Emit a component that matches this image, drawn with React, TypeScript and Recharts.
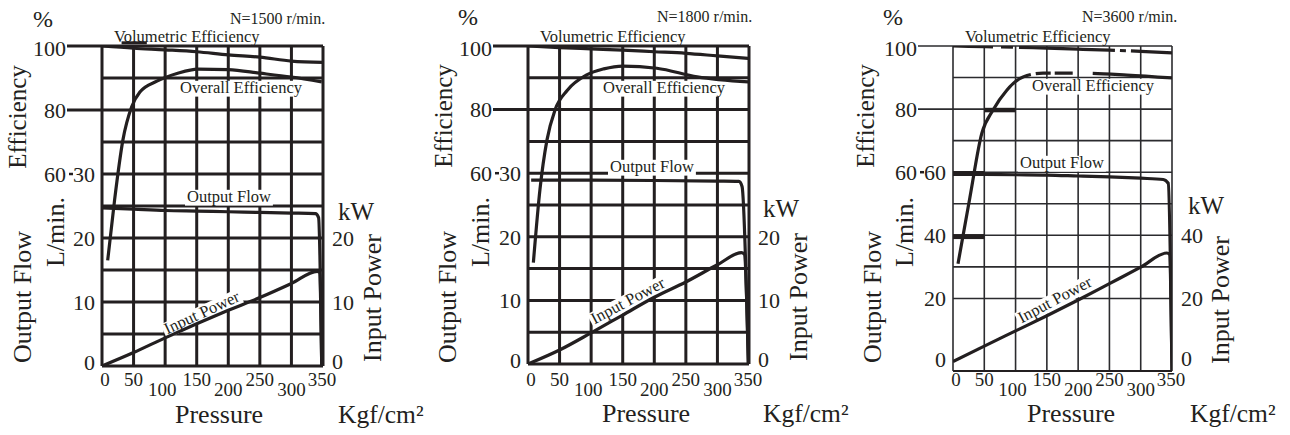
import React from "react";
import { LineChart, Line, XAxis, YAxis, CartesianGrid, ReferenceLine } from "recharts";

const INK = "#231f20";
const FONT = '"Liberation Serif", "Times New Roman", serif';
const H = 435;

// pressure axis, Kgf/cm²
const PRESSURE_TICKS = [0, 50, 100, 150, 200, 250, 300, 350];
const LOW_ROW = [100, 200, 300];
const EVEN_P = [0, 50, 100, 150, 200, 250, 300, 350];

// N = 1500 r/min
const VOL_1500 = [100, 99.3, 98.8, 98.2, 97.2, 96.5, 95.3, 94.9];
const OVERALL_1500_P = [9, 20, 33, 47, 60, 87, 120, 152, 200, 250, 300, 348];
const OVERALL_1500 = [33, 52, 70.5, 81, 85.6, 89, 91.5, 92.8, 92.6, 91.5, 90.3, 88.8];
const FLOW_1500_P = [0, 50, 100, 150, 200, 250, 300, 338, 343, 348];
const FLOW_1500 = [24.7, 24.5, 24.3, 24.2, 24.1, 24, 23.9, 23.8, 23.2, 0];
const POWER_1500_P = [0, 50, 100, 150, 200, 250, 300, 341, 344.5, 348];
const POWER_1500 = [0, 2.1, 4.4, 6.6, 8.7, 10.7, 12.9, 14.8, 14.6, 0];

// N = 1800 r/min
const VOL_1800 = [100, 99.5, 99.1, 98.7, 98.2, 97.7, 96.9, 96.1];
const OVERALL_1800_P = [8.5, 19, 30, 43, 62, 93, 120, 150, 204, 268, 349];
const OVERALL_1800 = [31.9, 55, 70.4, 80, 86, 90.9, 92.8, 93.7, 93, 90.3, 88.7];
const FLOW_1800_P = [5, 100, 200, 300, 334, 339, 349];
const FLOW_1800 = [28.9, 28.9, 28.85, 28.75, 28.7, 27.9, 0];
const POWER_1800_P = [0, 50, 100, 150, 200, 250, 300, 338, 342.5, 349];
const POWER_1800 = [0, 2.2, 4.9, 7.7, 10.5, 12.9, 15.6, 17.5, 17.3, 0];

// N = 3600 r/min
const VOL_3600 = [100, 99.8, 99.6, 99.3, 99, 98.7, 98.3, 97.8];
const OVERALL_3600_P = [8, 27, 46, 64, 86, 112, 144, 198, 278, 350];
const OVERALL_3600 = [31, 52, 72.3, 79.7, 86, 90.2, 91.4, 91.4, 90.8, 89.9];
const FLOW_3600_P = [0, 50, 100, 150, 200, 250, 300, 336, 344, 350];
const FLOW_3600 = [59.5, 59.3, 59.2, 59.1, 58.8, 58.5, 58.1, 57.7, 56.5, -3];
const POWER_3600_P = [0, 50, 100, 150, 200, 250, 300, 342, 346, 350];
const POWER_3600 = [0, 4.9, 9.7, 14.5, 19.5, 24.7, 29.9, 34.4, 34, -3];

type Pt = { p: number; v: number };
const rows = (ps: number[], vs: number[]): Pt[] => ps.map((p, i) => ({ p, v: vs[i] }));

type Seg = { x1: number; x2: number; y: number; w: number };
type Txt = { x: number; y: number };

type PanelCfg = {
  speed: string;
  left: number;
  width: number;
  // plot box inside the panel
  plot: { top: number; right: number; bottom: number; left: number };
  grid: number;
  gridInk: string;
  effDomain: [number, number];
  effTicks: number[];
  sideDomain: [number, number];
  flowTicks: number[];
  kwTicks: number[];
  bottomAxis: boolean;
  xRows: [number, number];
  zeroLift: number;
  extra: Seg[];
  volDash?: string;
  overallDash?: string;
  vol: Pt[];
  overall: Pt[];
  flow: Pt[];
  power: Pt[];
  t: {
    pct: Txt; speed: Txt; vol: Txt; overall: Txt; flow: Txt;
    power: Txt & { a: number };
    effTitle: Txt; flowTitle: Txt; unit: Txt; kw: Txt; kwTitle: Txt; pressure: Txt; kgf: Txt;
  };
};

const PANELS: PanelCfg[] = [
  {
    speed: "N=1500 r/min.",
    left: 0, width: 430,
    plot: { top: 46, right: 107, bottom: 69, left: 102 },
    grid: 3, gridInk: INK,
    effDomain: [0, 100], effTicks: [0, 10, 20, 30, 40, 50, 60, 70, 80, 90, 100],
    sideDomain: [0, 50], flowTicks: [0, 10, 20, 30], kwTicks: [0, 10, 20],
    bottomAxis: false, xRows: [386, 396], zeroLift: 4,
    extra: [{ x1: 31, x2: 71, y: 101, w: 3 }],
    vol: rows(EVEN_P, VOL_1500), overall: rows(OVERALL_1500_P, OVERALL_1500),
    flow: rows(FLOW_1500_P, FLOW_1500), power: rows(POWER_1500_P, POWER_1500),
    t: {
      pct: { x: 33, y: 27 }, speed: { x: 230, y: 24 }, vol: { x: 114, y: 42 },
      overall: { x: 180, y: 93 }, flow: { x: 187, y: 202 }, power: { x: 202, y: 313, a: -25 },
      effTitle: { x: 26, y: 117 }, flowTitle: { x: 31, y: 297 }, unit: { x: 64, y: 232 },
      kw: { x: 338, y: 220 }, kwTitle: { x: 381, y: 298 },
      pressure: { x: 175, y: 423 }, kgf: { x: 338, y: 423 },
    },
  },
  {
    speed: "N=1800 r/min.",
    left: 430, width: 430,
    plot: { top: 46, right: 111, bottom: 71, left: 98 },
    grid: 3, gridInk: INK,
    effDomain: [0, 100], effTicks: [0, 10, 20, 30, 40, 50, 60, 70, 80, 90, 100],
    sideDomain: [0, 50], flowTicks: [0, 10, 20, 30], kwTicks: [0, 10, 20],
    bottomAxis: false, xRows: [386, 396], zeroLift: 4,
    extra: [],
    vol: rows(EVEN_P, VOL_1800), overall: rows(OVERALL_1800_P, OVERALL_1800),
    flow: rows(FLOW_1800_P, FLOW_1800), power: rows(POWER_1800_P, POWER_1800),
    t: {
      pct: { x: 458, y: 25 }, speed: { x: 657, y: 22 }, vol: { x: 540, y: 42 },
      overall: { x: 603, y: 93 }, flow: { x: 610, y: 172 }, power: { x: 628, y: 301, a: -28 },
      effTitle: { x: 452, y: 116 }, flowTitle: { x: 456, y: 297 }, unit: { x: 489, y: 232 },
      kw: { x: 763, y: 217 }, kwTitle: { x: 807, y: 297 },
      pressure: { x: 602, y: 422 }, kgf: { x: 763, y: 422 },
    },
  },
  {
    speed: "N=3600 r/min.",
    left: 850, width: 440,
    plot: { top: 46, right: 118, bottom: 64, left: 103 },
    grid: 1.6, gridInk: "#2b2b2e",
    effDomain: [-3, 100], effTicks: [20, 30, 40, 50, 60, 70, 80, 90, 100],
    sideDomain: [-3, 100], flowTicks: [0, 20, 40, 60], kwTicks: [0, 20, 40],
    bottomAxis: true, xRows: [386, 396], zeroLift: 2,
    extra: [
      { x1: 0, x2: 50, y: 59.6, w: 5 },
      { x1: 0, x2: 50, y: 39.6, w: 5 },
      { x1: 50, x2: 100, y: 79.7, w: 4.5 },
    ],
    volDash: "40 8 12 6 96 5 6 5 200",
    overallDash: "212 5 15 4 18 20 300",
    vol: rows(EVEN_P, VOL_3600), overall: rows(OVERALL_3600_P, OVERALL_3600),
    flow: rows(FLOW_3600_P, FLOW_3600), power: rows(POWER_3600_P, POWER_3600),
    t: {
      pct: { x: 883, y: 25 }, speed: { x: 1082, y: 22 }, vol: { x: 965, y: 42 },
      overall: { x: 1032, y: 91 }, flow: { x: 1020, y: 168 }, power: { x: 1055, y: 300, a: -28 },
      effTitle: { x: 874, y: 116 }, flowTitle: { x: 881, y: 297 }, unit: { x: 913, y: 232 },
      kw: { x: 1188, y: 214 }, kwTitle: { x: 1229, y: 300 },
      pressure: { x: 1027, y: 422 }, kgf: { x: 1190, y: 422 },
    },
  },
];

// rough Times em-widths, used to size the white boxes behind in-plot notes
const EM: Record<string, number> = {
  "Overall Efficiency": 7.414,
  "Output Flow": 5.084,
  "Input Power": 4.916,
  "Volumetric Efficiency": 8.97,
};

function Word(props: {
  x: number; y: number; text: string; size: number;
  rotate?: number; anchor?: "start" | "middle" | "end"; box?: boolean; center?: boolean;
}) {
  const { x, y, text, size, rotate = 0, anchor = "start", box, center } = props;
  const w = (EM[text] ?? 0) * size;
  const by = center ? y + size * 0.3 : y;
  const bx = anchor === "middle" ? x - w / 2 : x;
  return (
    <g transform={rotate ? `rotate(${rotate} ${x} ${y})` : undefined}>
      {box && (
        <rect x={bx - 2} y={by - size * 0.74} width={w + 4} height={size * 0.96} fill="#fff" />
      )}
      <text x={x} y={by} fontSize={size} fontFamily={FONT} fill={INK} textAnchor={anchor}>
        {text}
      </text>
    </g>
  );
}

// each axis needs at least 1px of room or it is not drawn
const AX = 1;

function Panel({ cfg }: { cfg: PanelCfg }) {
  const { left, width, plot, t } = cfg;
  const plotL = plot.left;
  const plotR = width - plot.right;
  const X = (x: number) => x - left;
  const margin = {
    top: plot.top,
    right: plot.right - AX,
    bottom: plot.bottom - AX,
    left: plot.left - 2 * AX,
  };

  const effTick = (props: any) => {
    const { y, payload } = props;
    const v = payload.value;
    if (![60, 80, 100].includes(v)) return <g />;
    return (
      <g>
        {v !== 60 && (
          <line x1={plotL - 35} x2={plotL} y1={y} y2={y} stroke={cfg.gridInk} strokeWidth={cfg.grid} />
        )}
        <text x={plotL - 36} y={y + (v === 100 ? 2 : 0)} dy="0.35em" textAnchor="end" fontSize={22} fontFamily={FONT} fill={INK}>
          {v}
        </text>
      </g>
    );
  };

  const topFlow = cfg.flowTicks[cfg.flowTicks.length - 1];
  const flowTick = (props: any) => {
    const { y, payload } = props;
    const v = payload.value;
    const lift = v === 0 ? cfg.zeroLift : 0;
    const rx = plotL - 7;
    return (
      <g>
        {v === topFlow && (
          <line x1={rx - 26} x2={rx - 22} y1={y} y2={y} stroke={INK} strokeWidth={2.5} />
        )}
        <text x={rx} y={y - lift} dy="0.35em" textAnchor="end" fontSize={22} fontFamily={FONT} fill={INK}>
          {v}
        </text>
      </g>
    );
  };

  const kwTick = (props: any) => {
    const { y, payload } = props;
    const v = payload.value;
    const lift = v === 0 ? cfg.zeroLift + 1 : 0;
    return (
      <text x={plotR + 9} y={y - lift} dy="0.35em" textAnchor="start" fontSize={22} fontFamily={FONT} fill={INK}>
        {v}
      </text>
    );
  };

  const xTick = (props: any) => {
    const { x, payload } = props;
    const v = payload.value;
    const shift = v === 0 ? 3 : v === 100 ? -3 : v === 350 ? -1 : 0;
    const y = LOW_ROW.includes(v) ? cfg.xRows[1] : cfg.xRows[0];
    return (
      <text x={x + shift} y={y} textAnchor="middle" fontSize={19} fontFamily={FONT} fill={INK}>
        {v}
      </text>
    );
  };

  const curve = { type: "monotone" as const, dataKey: "v", stroke: INK, strokeWidth: 3.2, dot: false, activeDot: false, isAnimationActive: false, strokeLinejoin: "round" as const };

  return (
    <div style={{ position: "absolute", left, top: 0, width, height: H }}>
      <LineChart width={width} height={H} margin={margin} style={{ overflow: "visible" }}>
        <CartesianGrid stroke={cfg.gridInk} strokeWidth={cfg.grid} />
        <XAxis
          type="number" dataKey="p" domain={[0, 350]} ticks={PRESSURE_TICKS} interval={0}
          height={AX} tickLine={false} tick={xTick} allowDataOverflow
          axisLine={cfg.bottomAxis ? { stroke: INK, strokeWidth: 2 } : false}
        />
        <YAxis
          type="number" domain={cfg.effDomain} ticks={cfg.effTicks} interval={0} width={AX}
          axisLine={false} tickLine={false} tick={effTick} allowDataOverflow
        />
        <YAxis
          yAxisId="flow" type="number" domain={cfg.sideDomain} ticks={cfg.flowTicks} interval={0}
          width={AX} axisLine={false} tickLine={false} tick={flowTick} allowDataOverflow
        />
        <YAxis
          yAxisId="kw" orientation="right" type="number" domain={cfg.sideDomain} ticks={cfg.kwTicks}
          interval={0} width={AX} axisLine={false} tickLine={false} tick={kwTick} allowDataOverflow
        />
        {cfg.extra.map((s, i) => (
          <ReferenceLine
            key={i} segment={[{ x: s.x1, y: s.y }, { x: s.x2, y: s.y }]}
            stroke={INK} strokeWidth={s.w} ifOverflow="visible"
          />
        ))}

        <g>
          <Word x={X(t.overall.x)} y={t.overall.y} text="Overall Efficiency" size={16.5} box />
          <Word x={X(t.flow.x)} y={t.flow.y} text="Output Flow" size={16.5} box />
          <Word x={X(t.power.x)} y={t.power.y} text="Input Power" size={16.5} rotate={t.power.a} anchor="middle" center box />
        </g>

        <Line {...curve} data={cfg.vol} strokeDasharray={cfg.volDash} />
        <Line {...curve} data={cfg.overall} strokeDasharray={cfg.overallDash} />
        <Line {...curve} yAxisId="flow" data={cfg.flow} />
        <Line {...curve} yAxisId="kw" data={cfg.power} />

        <g>
          <Word x={X(t.pct.x)} y={t.pct.y} text="%" size={24} />
          <Word x={X(t.speed.x)} y={t.speed.y} text={cfg.speed} size={16} />
          <Word x={X(t.vol.x)} y={t.vol.y} text="Volumetric Efficiency" size={16.5} />
          <Word x={X(t.effTitle.x)} y={t.effTitle.y} text="Efficiency" size={25} rotate={-90} anchor="middle" />
          <Word x={X(t.flowTitle.x)} y={t.flowTitle.y} text="Output Flow" size={26} rotate={-90} anchor="middle" />
          <Word x={X(t.unit.x)} y={t.unit.y} text="L/min." size={26} rotate={-90} anchor="middle" />
          <Word x={X(t.kw.x)} y={t.kw.y} text="kW" size={25} />
          <Word x={X(t.kwTitle.x)} y={t.kwTitle.y} text="Input Power" size={26} rotate={-90} anchor="middle" />
          <Word x={X(t.pressure.x)} y={t.pressure.y} text="Pressure" size={26} />
          <Word x={X(t.kgf.x)} y={t.kgf.y} text="Kgf/cm²" size={25.5} />
        </g>
      </LineChart>
    </div>
  );
}

export default function App() {
  return (
    <div style={{ position: "absolute", left: 0, top: 0, width: 1290, height: H, background: "#fff" }}>
      {PANELS.map((cfg) => (
        <Panel key={cfg.speed} cfg={cfg} />
      ))}
    </div>
  );
}
